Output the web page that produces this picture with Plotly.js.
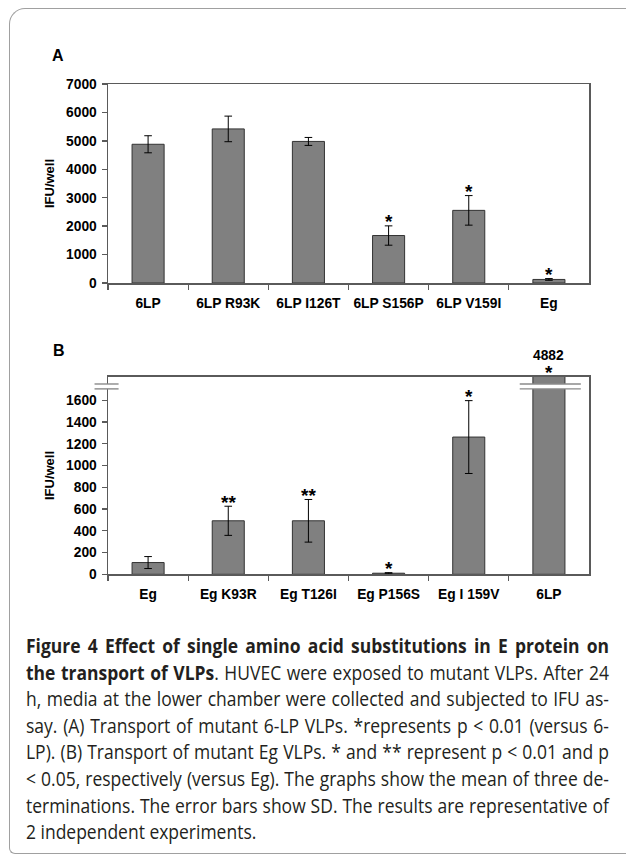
<!DOCTYPE html>
<html>
<head>
<meta charset="utf-8">
<script src="https://cdn.plot.ly/plotly-3.0.1.min.js"></script>
<style>
  html, body { margin: 0; padding: 0; background: #fff; }
  #wrap { position: relative; width: 626px; height: 856px; overflow: hidden; }
  #chart { position: absolute; left: 0; top: 0; width: 626px; height: 856px; }
  #frame { position: absolute; left: 9px; top: 8px; width: 640px; height: 844px;
           border: 1.3px solid #a0a0a0; border-right: none; border-top-left-radius: 16px;
           border-bottom-left-radius: 6px; pointer-events: none; }
  #caption { position: absolute; left: 26px; top: 633px; width: 583px;
             font-family: "Open Sans", "Noto Sans", sans-serif; font-size: 20px;
             line-height: 26.6px; color: #231f20; transform-origin: 0 0; }
  #caption .l { white-space: nowrap; text-align: justify; text-align-last: justify; }
  #caption .last { white-space: nowrap; text-align: left; }
  #measure { position: absolute; left: 0; top: 0; visibility: hidden;
             font-family: "Open Sans", "Noto Sans", sans-serif; font-size: 20px; white-space: nowrap; }
  #measure span { display: inline-block; }
</style>
</head>
<body>
<div id="wrap">
  <div id="chart"></div>
  <div id="frame"></div>
  <div id="caption"></div>
  <div id="measure"></div>
</div>
<script>
// ---------- data ----------
var catsA = ['6LP', '6LP R93K', '6LP I126T', '6LP S156P', '6LP V159I', 'Eg'];
var valsA = [4880, 5420, 4980, 1670, 2555, 125];
var errA  = [300, 450, 140, 340, 520, 30];
var sigA  = ['', '', '', '*', '*', '*'];
var ticksA = [0, 1000, 2000, 3000, 4000, 5000, 6000, 7000];

var catsB = ['Eg', 'Eg K93R', 'Eg T126I', 'Eg P156S', 'Eg I 159V', '6LP'];
var valsB = [108, 492, 492, 10, 1262, 4882];
var errB  = [55, 134, 196, 5, 335, 0];
var sigB  = ['', '**', '**', '*', '*', '*'];
var ticksB = [0, 200, 400, 600, 800, 1000, 1200, 1400, 1600];

var captionLines = [
  '<b>Figure 4 Effect of single amino acid substitutions in E protein on</b>',
  '<b>the transport of VLPs</b>. HUVEC were exposed to mutant VLPs. After 24',
  'h, media at the lower chamber were collected and subjected to IFU as-',
  'say. (A) Transport of mutant 6-LP VLPs. *represents p &lt; 0.01 (versus 6-',
  'LP). (B) Transport of mutant Eg VLPs. * and ** represent p &lt; 0.01 and p',
  '&lt; 0.05, respectively (versus Eg). The graphs show the mean of three de-',
  'terminations. The error bars show SD. The results are representative of',
  '2 independent experiments.'
];

// ---------- layout helpers ----------
var W = 626, H = 856;
var rangeA = [0, 7000];
var rangeB = [0, 1817];
var breakB = [1705, 1750];
function px2x(p) { return p / W; }
function px2y(p) { return 1 - p / H; }

var fontFam = '"Liberation Sans", Arial, sans-serif';
var tickFont = { family: fontFam, size: 13.8, color: '#000', weight: 'bold' };
var lineCol = '#5a5a5a';

function barTrace(cats, vals, errs, xa, ya) {
  return {
    type: 'bar', x: cats, y: vals, xaxis: xa, yaxis: ya,
    marker: { color: '#808080', line: { color: '#333333', width: 1 } },
    error_y: { type: 'data', array: errs, visible: true, color: '#000', thickness: 1, width: 3.8 },
    hoverinfo: 'skip', showlegend: false
  };
}

function xAxis(dom, anchor) {
  return {
    domain: dom, anchor: anchor, type: 'category', range: [-0.5, 5.5],
    showline: true, linecolor: lineCol, linewidth: 1.5, mirror: true,
    ticks: 'outside', tickson: 'boundaries', ticklen: 5, tickcolor: lineCol, tickwidth: 1.3,
    ticklabelstandoff: 7, tickangle: 0,
    tickfont: tickFont, showgrid: false, zeroline: false, fixedrange: true
  };
}
function yAxis(dom, anchor, range, tv) {
  return {
    domain: dom, anchor: anchor, range: range, tickvals: tv, ticktext: tv.map(String),
    showline: true, linecolor: lineCol, linewidth: 1.5, mirror: true,
    ticks: 'outside', ticklen: 5, tickcolor: lineCol, tickwidth: 1.3,
    ticklabelstandoff: 2,
    tickfont: tickFont, showgrid: false, zeroline: false, fixedrange: true,
    title: { text: 'IFU/well', font: { family: fontFam, size: 13, color: '#000', weight: 'bold' }, standoff: 8 }
  };
}

var annotations = [];
var starFont = { family: fontFam, size: 19, color: '#000', weight: 'bold' };
function addStars(cats, vals, errs, sig, xr, yr, rmax) {
  for (var i = 0; i < cats.length; i++) {
    if (!sig[i]) continue;
    var top = Math.min(vals[i] + errs[i], rmax);
    annotations.push({ x: cats[i], y: top, xref: xr, yref: yr, text: sig[i], showarrow: false,
      yanchor: 'middle', yshift: 4, font: starFont });
    if (vals[i] > rmax) {
      annotations.push({ x: cats[i], y: rmax, xref: xr, yref: yr, text: String(vals[i]), showarrow: false,
        yanchor: 'middle', yshift: 21, font: tickFont });
    }
  }
}
addStars(catsA, valsA, errA, sigA, 'x', 'y', rangeA[1]);
addStars(catsB, valsB, errB, sigB, 'x2', 'y2', rangeB[1]);

annotations.push({ text: 'A', x: px2x(50), y: px2y(45), xref: 'paper', yref: 'paper', showarrow: false,
  font: { family: fontFam, size: 16, color: '#000', weight: 'bold' } });
annotations.push({ text: 'B', x: px2x(51), y: px2y(350), xref: 'paper', yref: 'paper', showarrow: false,
  font: { family: fontFam, size: 16, color: '#000', weight: 'bold' } });

// break marks on panel B (axis break and bar break)
var fLo = breakB[0] / rangeB[1], fHi = breakB[1] / rangeB[1];
var brkX = [[-0.028, 0.022], [0.856, 0.983]];
var shapes = [];
brkX.forEach(function (b) {
  shapes.push({ type: 'rect', xref: 'x2 domain', yref: 'y2 domain', x0: b[0], x1: b[1], y0: fLo, y1: fHi,
    fillcolor: '#fff', line: { width: 0 }, layer: 'above' });
  [fLo, fHi].forEach(function (f) {
    shapes.push({ type: 'line', xref: 'x2 domain', yref: 'y2 domain', x0: b[0], x1: b[1], y0: f, y1: f,
      line: { color: '#8a8a8a', width: 1.4 }, layer: 'above' });
  });
});

var xDom = [px2x(108), px2x(589)];
var layout = {
  width: W, height: H, margin: { l: 0, r: 0, t: 0, b: 0 },
  paper_bgcolor: '#fff', plot_bgcolor: '#fff',
  bargap: 0.6, showlegend: false,
  xaxis: xAxis(xDom, 'y'),
  yaxis: yAxis([px2y(283), px2y(84)], 'x', rangeA, ticksA),
  xaxis2: xAxis(xDom, 'y2'),
  yaxis2: yAxis([px2y(574.3), px2y(376.7)], 'x2', rangeB, ticksB),
  annotations: annotations,
  shapes: shapes
};

Plotly.newPlot('chart', [
  barTrace(catsA, valsA, errA, 'x', 'y'),
  barTrace(catsB, valsB, errB, 'x2', 'y2')
], layout, { displayModeBar: false, staticPlot: true });

// caption: justified lines, horizontally condensed to fit the reference line width
var CAP_W = 583;
function buildCaption() {
  var meas = document.getElementById('measure');
  meas.innerHTML = captionLines.map(function (t) { return '<span>' + t + '</span><br>'; }).join('');
  var maxW = 0;
  Array.prototype.forEach.call(meas.querySelectorAll('span'), function (s) {
    maxW = Math.max(maxW, s.getBoundingClientRect().width);
  });
  var f = Math.min(1, (CAP_W - 4) / maxW);
  var cap = document.getElementById('caption');
  cap.style.width = (CAP_W / f) + 'px';
  cap.style.transform = 'scaleX(' + f + ')';
  cap.innerHTML = captionLines.map(function (t, i) {
    return '<div class="' + (i === captionLines.length - 1 ? 'last' : 'l') + '">' + t + '</div>';
  }).join('');
  meas.innerHTML = '';
}
buildCaption();
if (document.fonts && document.fonts.ready) { document.fonts.ready.then(buildCaption); }
</script>
</body>
</html>
